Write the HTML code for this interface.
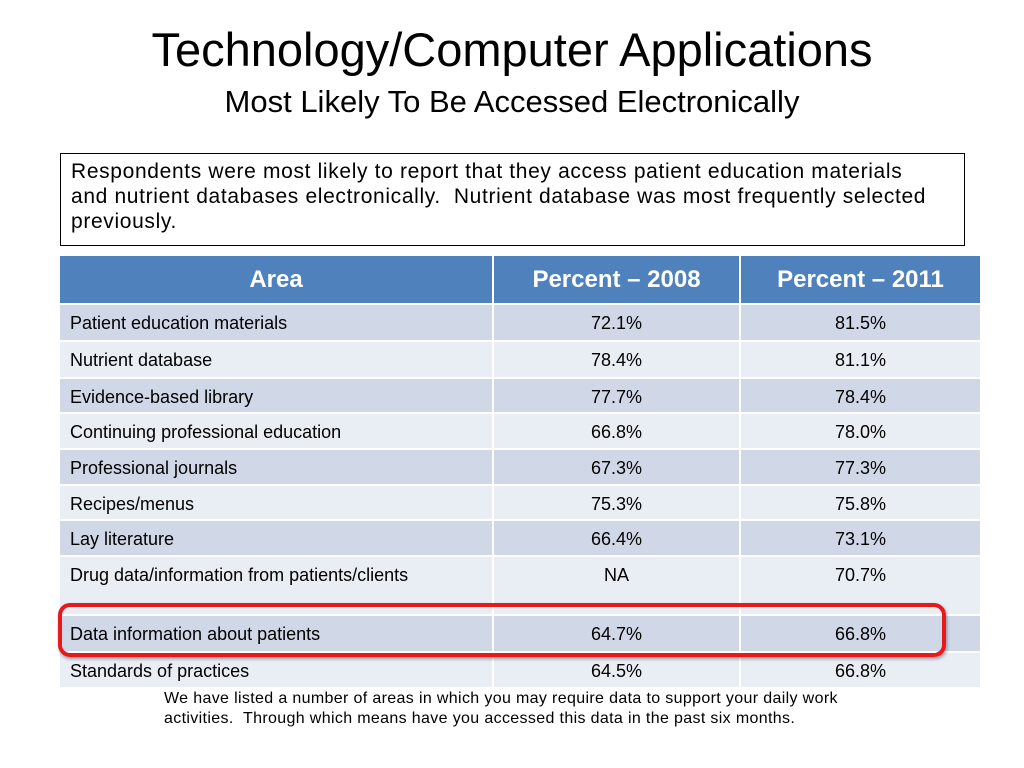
<!DOCTYPE html>
<html><head><meta charset="utf-8">
<style>
body{margin:0;width:1024px;height:768px;background:#fff;position:relative;overflow:hidden;font-family:"Liberation Sans",sans-serif}
.t{position:absolute;left:0;width:1024px;text-align:center;color:#000;white-space:nowrap}
#title{top:22px;font-size:47px}
#sub{top:84px;font-size:31px}
#note{position:absolute;left:60px;top:153px;width:893px;height:86px;border:1px solid #000;padding:5px 0 0 10px;font-size:21px;letter-spacing:0.65px;line-height:25px;box-sizing:content-box;white-space:nowrap}
.cell{position:absolute;box-sizing:border-box;font-size:18px;color:#000;border-right:2px solid #fff;border-bottom:2px solid #fff;white-space:nowrap}
.hdr{background:#4F81BD;color:#fff;font-size:24px;font-weight:bold;text-align:center;line-height:48px}
#foot{position:absolute;left:164px;top:689px;font-size:16px;letter-spacing:0.35px;line-height:20px;white-space:nowrap}
#hl{position:absolute;left:58px;top:603px;width:888px;height:54px;border:4px solid #e8191d;border-radius:12px;box-sizing:border-box;box-shadow:1px 2px 3px rgba(0,0,0,.35)}
</style></head><body>
<div class="t" id="title">Technology/Computer Applications</div>
<div class="t" id="sub">Most Likely To Be Accessed Electronically</div>
<div id="note">Respondents were most likely to report that they access patient education materials<br>and nutrient databases electronically.&nbsp; Nutrient database was most frequently selected<br>previously.</div>
<div id="table"></div>
<div id="hl"></div>
<div id="foot">We have listed a number of areas in which you may require data to support your daily work<br>activities.&nbsp; Through which means have you accessed this data in the past six months.</div>
<script>
const headers=["Area","Percent – 2008","Percent – 2011"];
const areas=["Patient education materials","Nutrient database","Evidence-based library","Continuing professional education","Professional journals","Recipes/menus","Lay literature","Drug data/information from patients/clients","Data information about patients","Standards of practices"];
const pct2008=["72.1%","78.4%","77.7%","66.8%","67.3%","75.3%","66.4%","NA","64.7%","64.5%"];
const pct2011=["81.5%","81.1%","78.4%","78.0%","77.3%","75.8%","73.1%","70.7%","66.8%","66.8%"];
const colX=[60,494,741,982];
const rowTop=[305,342,379,414,450,486,521,557,616,653,689];
const tbl=document.getElementById('table');
function cell(x,y,w,h,txt,cls,bg,align){
  const d=document.createElement('div');
  d.className='cell '+cls;
  d.style.left=x+'px';d.style.top=y+'px';d.style.width=w+'px';d.style.height=h+'px';
  if(bg)d.style.background=bg;
  if(align){d.style.textAlign=align;d.style.paddingLeft=align==='left'?'10px':'0';d.style.paddingTop='8px';}
  d.textContent=txt;
  tbl.appendChild(d);return d;
}
for(let c=0;c<3;c++){
  const d=cell(colX[c],256,colX[c+1]-colX[c],49,headers[c],'hdr');
  
  
}
for(let r=0;r<areas.length;r++){
  const bg=r%2===0?'#D0D8E8':'#E9EDF4';
  const y=rowTop[r],h=rowTop[r+1]-rowTop[r];
  const vals=[areas[r],pct2008[r],pct2011[r]];
  for(let c=0;c<3;c++){
    const d=cell(colX[c],y,colX[c+1]-colX[c],h,vals[c],'',bg,c===0?'left':'center');
    
    
  }
}
</script>
</body></html>
